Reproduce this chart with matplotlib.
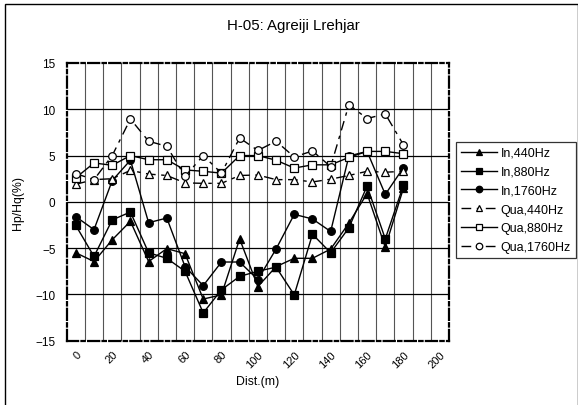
import matplotlib
matplotlib.use("Agg")
import matplotlib.pyplot as plt
from matplotlib.patches import Rectangle
import numpy as np

plt.rcParams['font.family'] = ['Liberation Sans', 'DejaVu Sans']

dist = [0, 10, 20, 30, 40, 50, 60, 70, 80, 90, 100, 110, 120, 130, 140, 150, 160, 170, 180]

in_440 = [-5.5, -6.45, -4.1, -2.1, -6.45, -5.05, -5.6, -10.5, -10.05, -4.0,
          -9.15, -7.0, -6.1, -6.1, -5.1, -2.3, 0.9, -4.9, 1.5]
in_880 = [-2.55, -5.9, -1.95, -1.1, -5.5, -6.1, -7.5, -12.0, -9.5, -8.05,
          -7.5, -7.05, -10.05, -3.5, -5.5, -2.8, 1.7, -4.0, 1.8]
in_1760 = [-1.6, -3.0, 2.3, 4.5, -2.25, -1.75, -7.0, -9.05, -6.5, -6.5,
           -8.4, -5.1, -1.35, -1.85, -3.2, 4.95, 5.45, 0.8, 3.7]
qua_440 = [1.9, 2.4, 2.5, 3.4, 3.0, 2.85, 2.05, 2.0, 2.0, 2.85,
           2.9, 2.4, 2.4, 2.15, 2.45, 2.85, 3.3, 3.2, 3.3]
qua_880 = [2.6, 4.2, 3.95, 5.0, 4.55, 4.55, 3.45, 3.3, 3.1, 5.0,
           5.0, 4.5, 3.65, 4.0, 4.0, 4.8, 5.45, 5.45, 5.2]
qua_1760 = [3.05, 2.4, 5.0, 8.95, 6.55, 6.0, 2.75, 5.0, 3.1, 6.9,
            5.55, 6.55, 4.85, 5.5, 3.8, 10.5, 9.0, 9.5, 6.15]

series_labels = ["In,440Hz", "In,880Hz", "In,1760Hz", "Qua,440Hz", "Qua,880Hz", "Qua,1760Hz"]
x_tick_labels = ["0", "20", "40", "60", "80", "100", "120", "140", "160", "180", "200"]
title = "H-05: Agreiji Lrehjar"

W, H = 578, 406
fig = plt.figure(figsize=(W / 100, H / 100), dpi=100)
fig.patch.set_facecolor('white')

# outer chart border (right and bottom edges fall at / beyond the image edge)
fig.patches.append(Rectangle((5 / W, -0.02), 573 / W, 1.02 - 5 / H,
                             transform=fig.transFigure, fill=False,
                             edgecolor='black', linewidth=1.0))

ax = fig.add_axes([66.7 / W, 1 - 341.7 / H, (449 - 66.7) / W, (341.7 - 64) / H])

dash_dot = (0, (7, 4, 2.5, 4))
styles = [
    dict(ls='-', marker='^', mfc='black'),
    dict(ls='-', marker='s', mfc='black'),
    dict(ls='-', marker='o', mfc='black'),
    dict(ls=dash_dot, marker='^', mfc='white'),
    dict(ls='-', marker='s', mfc='white'),
    dict(ls=dash_dot, marker='o', mfc='white'),
]
data = [in_440, in_880, in_1760, qua_440, qua_880, qua_1760]
for vals, lab, st in zip(data, series_labels, styles):
    ax.plot(dist, vals, color='black', linewidth=1.0, linestyle=st['ls'],
            marker=st['marker'], markersize=5.5, markerfacecolor=st['mfc'],
            markeredgecolor='black', markeredgewidth=0.9, label=lab, zorder=3)

ax.set_xlim(-5, 205)
ax.set_ylim(-15, 15)
ax.set_yticks([-15, -10, -5, 0, 5, 10, 15])
ax.set_xticks(np.arange(0, 201, 20))
ax.set_xticklabels(x_tick_labels, rotation=45, ha='right', va='top',
                   rotation_mode='anchor', fontsize=8)
ax.tick_params(axis='both', which='both', length=0)
ax.tick_params(axis='y', labelsize=8.5, pad=8)
ax.tick_params(axis='x', pad=6)

ax.grid(False)
for xv in np.arange(5, 200, 10):
    ax.axvline(xv, color='#555555', linewidth=0.8, zorder=1)
for yv in [-10, -5, 0, 5, 10]:
    ax.axhline(yv, color='black', linewidth=0.9, zorder=1)

for sp in ax.spines.values():
    sp.set_linestyle((0, (5, 1.5, 1.5, 1.5)))
    sp.set_linewidth(1.6)
    sp.set_color('black')

ax.set_xlabel("Dist.(m)", fontsize=8.8, labelpad=4)
ax.set_ylabel("Hp/Hq(%)", fontsize=8.8, labelpad=8)
fig.text(293 / W, 1 - 26 / H, title, ha='center', va='center', fontsize=10.8)

leg = fig.legend(loc='upper left', bbox_to_anchor=(456 / W, 1 - 143 / H),
                 fontsize=9, frameon=True, fancybox=False, shadow=False,
                 handlelength=2.9, handletextpad=0.25, labelspacing=0.55,
                 borderpad=0.4, borderaxespad=0.0, markerscale=0.85)
leg.get_frame().set_edgecolor('black')
leg.get_frame().set_linewidth(0.9)

fig.savefig("out.png", dpi=100)
